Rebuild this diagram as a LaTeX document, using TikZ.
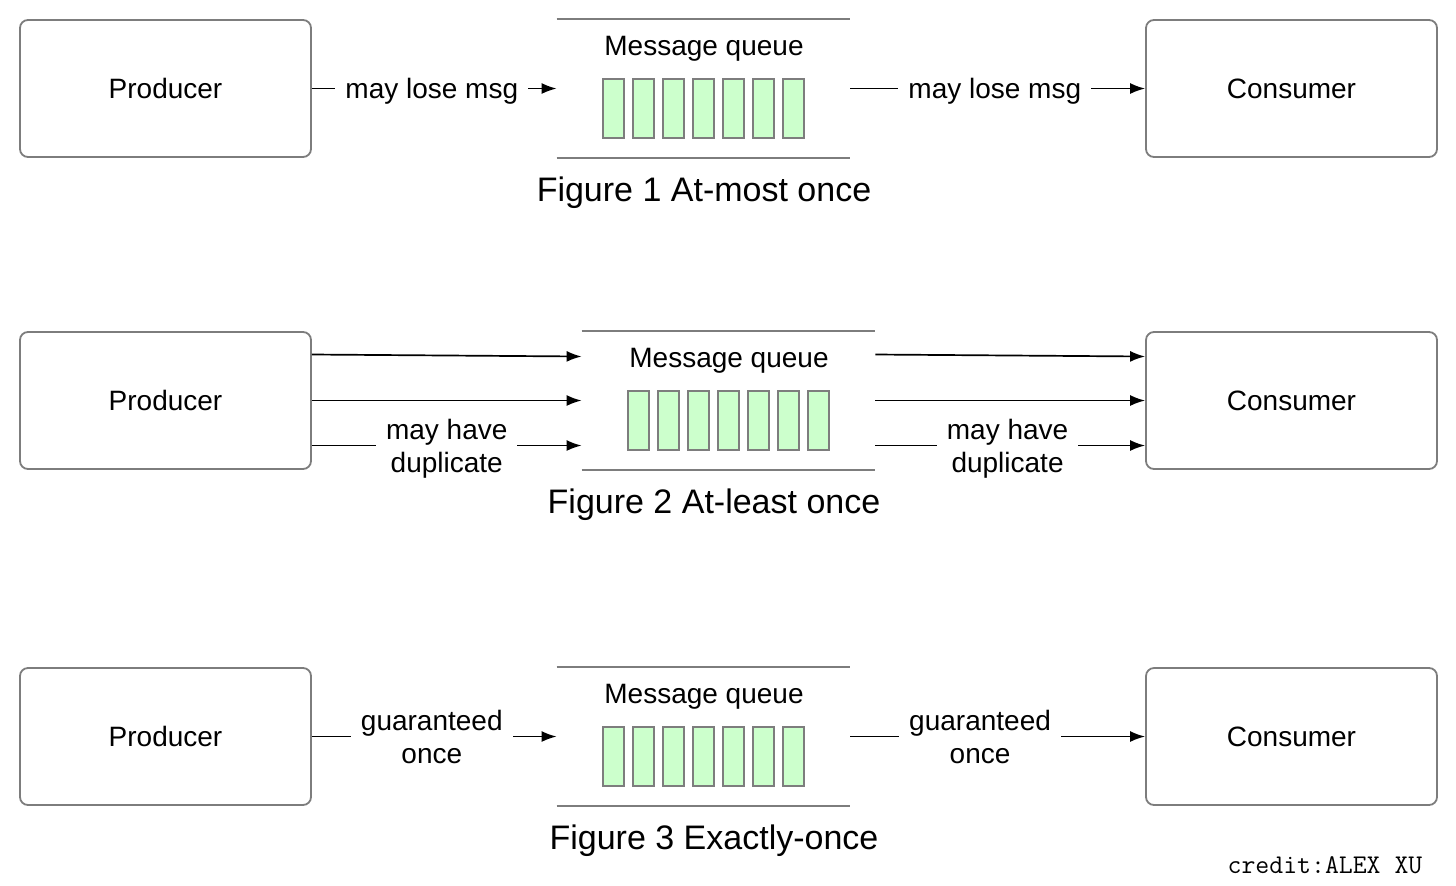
\documentclass[tikz,border=0pt]{standalone}
\usepackage{fontspec}
\setmainfont{Liberation Sans}
\usetikzlibrary{arrows.meta}
\definecolor{cellgreen}{RGB}{204,255,204}
\definecolor{edgegray}{RGB}{125,125,125}
\tikzset{
  box/.style={draw=edgegray, line width=0.9pt, rounded corners=4pt, minimum width=145.5pt, minimum height=68.5pt, font=\fontsize{14}{16.5}\selectfont},
  queue/.style={minimum width=146.5pt, minimum height=69pt, inner sep=0pt},
  qline/.style={draw=edgegray, line width=0.8pt},
  cell/.style={draw=edgegray, fill=cellgreen, line width=0.7pt},
  arr/.style={line width=0.85pt, -{Latex[length=7.5pt,width=5.5pt]}},
  lbl/.style={fill=white, inner xsep=5pt, inner ysep=1pt, yshift=-1.5pt, align=center, font=\fontsize{14}{16.5}\selectfont},
  qtitle/.style={font=\fontsize{14}{16.5}\selectfont},
  caption/.style={font=\fontsize{17}{20}\selectfont}
}
\begin{document}
\begin{tikzpicture}[x=0.5pt,y=-0.5pt]
    \useasboundingbox (0,0) rectangle (1456,885);
    % the three rows: producer, queue, consumer
    \foreach \r/\dx/\dy/\cx/\fig in {1/0/0/704/{Figure 1 At-most once}, 2/25/312/714/{Figure 2 At-least once}, 3/0/648/714/{Figure 3 Exactly-once}} {
        \node[box] (p\r) at (165.5, 88.5+\dy) {Producer};
        \node[box] (c\r) at (1291.5, 88.5+\dy) {Consumer};
        \node[queue] (q\r) at (703.5+\dx, 88.5+\dy) {};
        \draw[qline] (q\r.north west) -- (q\r.north east);
        \draw[qline] (q\r.south west) -- (q\r.south east);
        \node[qtitle] (t\r) at (704+\dx, 49+\dy) {Message queue};
        \foreach \i in {0,...,6}
        \draw[cell] (603+\dx+30*\i, 79+\dy) rectangle ++(21, 59);
        \node[caption] (f\r) at (\cx, 193+\dy) {\fig};
    }
    % at-most once
    \draw[arr] (p1.east) -- (q1.west) node[lbl, pos=0.49] {may lose msg};
    \draw[arr] (q1.east) -- (c1.west) node[lbl, pos=0.49] {may lose msg};
    % at-least once
    \foreach \s/\e in {23pt/22pt, 0pt/0pt} {
        \draw[arr] ([yshift=\s]p2.east) -- ([yshift=\e]q2.west);
        \draw[arr] ([yshift=\s]q2.east) -- ([yshift=\e]c2.west);
    }
    \draw[arr] ([yshift=-22.5pt]p2.east) -- ([yshift=-22.5pt]q2.west) node[lbl, pos=0.5] {may have\\duplicate};
    \draw[arr] ([yshift=-22.5pt]q2.east) -- ([yshift=-22.5pt]c2.west) node[lbl, pos=0.49] {may have\\duplicate};
    % exactly once
    \draw[arr] (p3.east) -- (q3.west) node[lbl, pos=0.49, yshift=1.5pt] {guaranteed\\once};
    \draw[arr] (q3.east) -- (c3.west) node[lbl, pos=0.44, yshift=1.5pt] {guaranteed\\once};
    \node[font=\ttfamily\fontsize{13.5}{16}\selectfont] (credit) at (1325, 865) {credit:ALEX XU};
\end{tikzpicture}
\end{document}
